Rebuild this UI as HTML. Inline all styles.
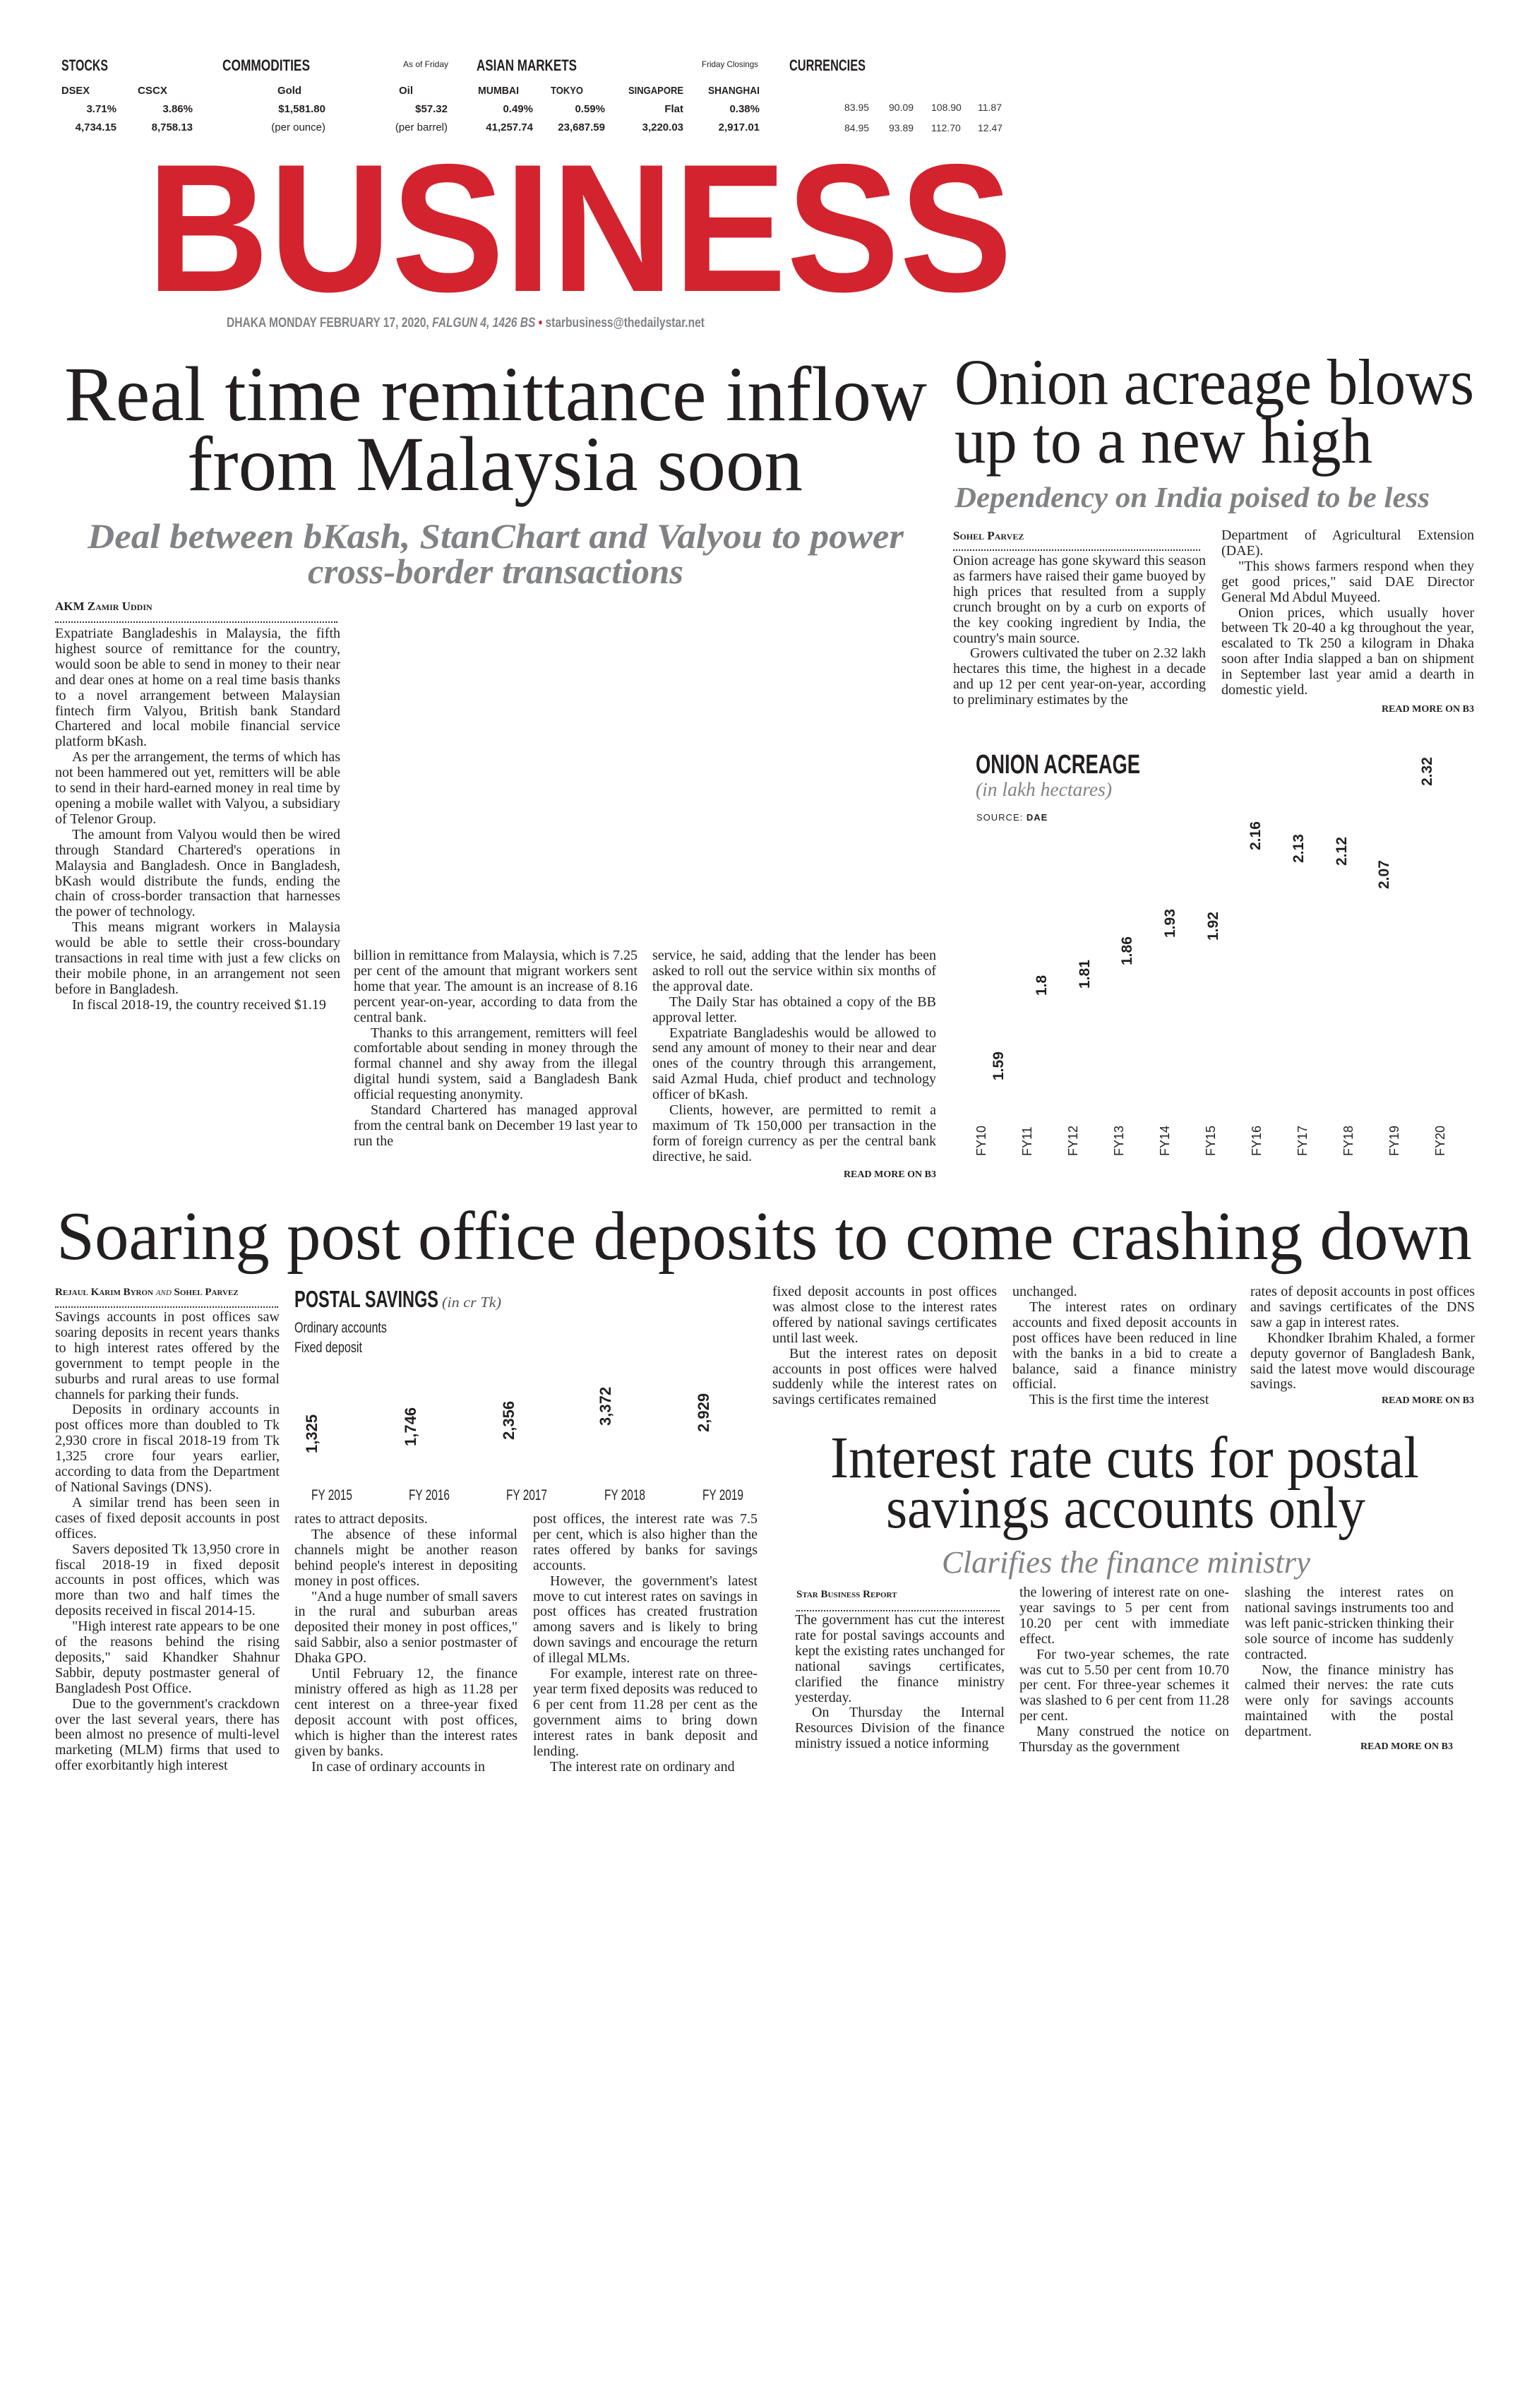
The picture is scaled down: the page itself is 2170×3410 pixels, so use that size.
<!DOCTYPE html>
<html><head><meta charset="utf-8">
<style>
*{margin:0;padding:0;box-sizing:border-box}
html,body{width:2170px;height:3410px;background:#fff;overflow:hidden}
body{position:relative;font-family:"Liberation Serif",serif;color:#222}
svg{position:absolute;left:0;top:0}
.col{position:absolute;font-family:"Liberation Serif",serif;font-size:20px;line-height:21.9px;text-align:justify;color:#231f20}
.col p{text-indent:24px}
.col p.ni{text-indent:0}
.by{position:absolute;font-family:"Liberation Serif",serif;font-size:17px;font-weight:bold;font-variant:small-caps;color:#231f20;white-space:nowrap}
.dots{position:absolute;height:0;border-top:2px dotted #333}
.rm{position:absolute;font-family:"Liberation Serif",serif;font-size:14px;font-weight:bold;color:#231f20;white-space:nowrap}
</style></head><body>

<svg width="2170" height="3410" xmlns="http://www.w3.org/2000/svg">
<g font-family="Liberation Sans Narrow, Liberation Sans, sans-serif" font-weight="bold" fill="#231f20">
<text x="87" y="100" font-size="22" textLength="66" lengthAdjust="spacingAndGlyphs">STOCKS</text>
<text x="315" y="100" font-size="22" textLength="124" lengthAdjust="spacingAndGlyphs">COMMODITIES</text>
<text x="571" y="95" font-size="12" font-weight="normal" textLength="64" lengthAdjust="spacingAndGlyphs">As of Friday</text>
<text x="675" y="100" font-size="22" textLength="142" lengthAdjust="spacingAndGlyphs">ASIAN MARKETS</text>
<text x="994" y="95" font-size="12" font-weight="normal" textLength="80" lengthAdjust="spacingAndGlyphs">Friday Closings</text>
<text x="1118" y="100" font-size="22" textLength="108" lengthAdjust="spacingAndGlyphs">CURRENCIES</text>
<g font-size="15">
<text x="87" y="133" textLength="40" lengthAdjust="spacingAndGlyphs">DSEX</text>
<text x="195" y="133" textLength="42" lengthAdjust="spacingAndGlyphs">CSCX</text>
<text x="393" y="133" textLength="34" lengthAdjust="spacingAndGlyphs">Gold</text>
<text x="565" y="133" textLength="20" lengthAdjust="spacingAndGlyphs">Oil</text>
<text x="677" y="133" textLength="58" lengthAdjust="spacingAndGlyphs">MUMBAI</text>
<text x="780" y="133" textLength="46" lengthAdjust="spacingAndGlyphs">TOKYO</text>
<text x="890" y="133" textLength="78" lengthAdjust="spacingAndGlyphs">SINGAPORE</text>
<text x="1003" y="133" textLength="73" lengthAdjust="spacingAndGlyphs">SHANGHAI</text>
</g>
<g font-size="15" text-anchor="end">
<text x="165" y="159">3.71%</text><text x="273" y="159">3.86%</text>
<text x="461" y="159">$1,581.80</text><text x="634" y="159">$57.32</text>
<text x="755" y="159">0.49%</text><text x="857" y="159">0.59%</text>
<text x="968" y="159">Flat</text><text x="1076" y="159">0.38%</text>
<text x="165" y="185">4,734.15</text><text x="273" y="185">8,758.13</text>
<text x="461" y="185" font-weight="normal">(per ounce)</text><text x="634" y="185" font-weight="normal">(per barrel)</text>
<text x="755" y="185">41,257.74</text><text x="857" y="185">23,687.59</text>
<text x="968" y="185">3,220.03</text><text x="1076" y="185">2,917.01</text>
</g>
<g font-size="14" font-weight="normal" fill="#333">
<text x="1196" y="157">83.95</text><text x="1259" y="157">90.09</text><text x="1319" y="157">108.90</text><text x="1385" y="157">11.87</text>
<text x="1196" y="186">84.95</text><text x="1259" y="186">93.89</text><text x="1319" y="186">112.70</text><text x="1385" y="186">12.47</text>
</g>
</g>

<text x="208" y="412" font-family="Liberation Sans Narrow, Liberation Sans, sans-serif" font-weight="bold" font-size="258" fill="#d3232e" textLength="1226" lengthAdjust="spacingAndGlyphs">BUSINESS</text>
<text x="321" y="463" font-family="Liberation Sans Narrow, Liberation Sans, sans-serif" font-weight="bold" font-size="19" fill="#808285" textLength="677" lengthAdjust="spacingAndGlyphs">DHAKA MONDAY FEBRUARY 17, 2020, <tspan font-style="italic">FALGUN 4, 1426 BS</tspan>  <tspan fill="#d3232e">•</tspan>  starbusiness@thedailystar.net</text>

<g font-family="Liberation Serif, serif" fill="#231f20">
<text x="91" y="595" font-size="110" textLength="1222" lengthAdjust="spacingAndGlyphs">Real time remittance inflow</text>
<text x="265" y="694" font-size="110" textLength="872" lengthAdjust="spacingAndGlyphs">from Malaysia soon</text>
<text x="1352" y="572" font-size="92" textLength="736" lengthAdjust="spacingAndGlyphs">Onion acreage blows</text>
<text x="1352" y="655" font-size="92" textLength="592" lengthAdjust="spacingAndGlyphs">up to a new high</text>
<text x="80" y="1783" font-size="98" textLength="2005" lengthAdjust="spacingAndGlyphs">Soaring post office deposits to come crashing down</text>
<text x="1176" y="2092" font-size="84" textLength="834" lengthAdjust="spacingAndGlyphs">Interest rate cuts for postal</text>
<text x="1255" y="2163" font-size="84" textLength="679" lengthAdjust="spacingAndGlyphs">savings accounts only</text>
</g>
<g font-family="Liberation Serif, serif" font-style="italic" font-weight="bold" fill="#808285">
<text x="124" y="776" font-size="50" textLength="1156" lengthAdjust="spacingAndGlyphs">Deal between bKash, StanChart and Valyou to power</text>
<text x="436" y="826" font-size="50" textLength="532" lengthAdjust="spacingAndGlyphs">cross-border transactions</text>
<text x="1352" y="718" font-size="41" textLength="673" lengthAdjust="spacingAndGlyphs">Dependency on India poised to be less</text>
<text x="1334" y="2227" font-size="44" font-weight="normal" textLength="522" lengthAdjust="spacingAndGlyphs">Clarifies the finance ministry</text>
</g>

<!-- Onion chart -->
<g font-family="Liberation Sans, sans-serif">
<text x="1382" y="1095" font-family="Liberation Sans Narrow, Liberation Sans, sans-serif" font-weight="bold" font-size="38" fill="#231f20" textLength="233" lengthAdjust="spacingAndGlyphs">ONION ACREAGE</text>
<text x="1382" y="1127" font-family="Liberation Serif, serif" font-style="italic" font-size="27" fill="#808285" textLength="193" lengthAdjust="spacingAndGlyphs">(in lakh hectares)</text>
<text x="1383" y="1162" font-size="13" fill="#231f20" letter-spacing="1">SOURCE: <tspan font-weight="bold">DAE</tspan></text>
<g font-size="18" fill="#231f20">
<text transform="translate(1396,1637) rotate(-90)">FY10</text>
<text transform="translate(1461,1637) rotate(-90)">FY11</text>
<text transform="translate(1526,1637) rotate(-90)">FY12</text>
<text transform="translate(1591,1637) rotate(-90)">FY13</text>
<text transform="translate(1656,1637) rotate(-90)">FY14</text>
<text transform="translate(1721,1637) rotate(-90)">FY15</text>
<text transform="translate(1786,1637) rotate(-90)">FY16</text>
<text transform="translate(1851,1637) rotate(-90)">FY17</text>
<text transform="translate(1916,1637) rotate(-90)">FY18</text>
<text transform="translate(1981,1637) rotate(-90)">FY19</text>
<text transform="translate(2046,1637) rotate(-90)">FY20</text>
</g>
<g font-size="21" font-weight="bold" fill="#231f20">
<text transform="translate(1421,1530) rotate(-90)">1.59</text>
<text transform="translate(1482,1410) rotate(-90)">1.8</text>
<text transform="translate(1543,1400) rotate(-90)">1.81</text>
<text transform="translate(1603,1367) rotate(-90)">1.86</text>
<text transform="translate(1664,1328) rotate(-90)">1.93</text>
<text transform="translate(1725,1332) rotate(-90)">1.92</text>
<text transform="translate(1785,1204) rotate(-90)">2.16</text>
<text transform="translate(1846,1222) rotate(-90)">2.13</text>
<text transform="translate(1907,1226) rotate(-90)">2.12</text>
<text transform="translate(1967,1259) rotate(-90)">2.07</text>
<text transform="translate(2028,1113) rotate(-90)">2.32</text>
</g>
</g>

<!-- Postal chart -->
<g font-family="Liberation Sans Narrow, Liberation Sans, sans-serif" fill="#231f20">
<text x="417" y="1851" font-weight="bold" font-size="33" textLength="204" lengthAdjust="spacingAndGlyphs">POSTAL SAVINGS</text>
<text x="626" y="1851" font-family="Liberation Serif, serif" font-style="italic" font-size="21" fill="#555" textLength="84" lengthAdjust="spacingAndGlyphs">(in cr Tk)</text>
<text x="417" y="1887" font-size="21" textLength="131" lengthAdjust="spacingAndGlyphs">Ordinary accounts</text>
<text x="417" y="1915" font-size="21" textLength="96" lengthAdjust="spacingAndGlyphs">Fixed deposit</text>
<g font-family="Liberation Sans, sans-serif" font-weight="bold" font-size="22">
<text transform="translate(449,2058) rotate(-90)">1,325</text>
<text transform="translate(589,2048) rotate(-90)">1,746</text>
<text transform="translate(728,2039) rotate(-90)">2,356</text>
<text transform="translate(865,2019) rotate(-90)">3,372</text>
<text transform="translate(1004,2028) rotate(-90)">2,929</text>
</g>
<g font-size="21" text-anchor="middle">
<text x="470" y="2124" textLength="58" lengthAdjust="spacingAndGlyphs">FY 2015</text><text x="608" y="2124" textLength="58" lengthAdjust="spacingAndGlyphs">FY 2016</text><text x="746" y="2124" textLength="58" lengthAdjust="spacingAndGlyphs">FY 2017</text><text x="885" y="2124" textLength="58" lengthAdjust="spacingAndGlyphs">FY 2018</text><text x="1024" y="2124" textLength="58" lengthAdjust="spacingAndGlyphs">FY 2019</text>
</g>
</g>
</svg>

<!-- Article 1 -->
<div class="by" style="left:78px;top:849px">AKM Zamir Uddin</div>
<div class="dots" style="left:78px;top:880px;width:400px"></div>
<div class="col" style="left:78px;top:887px;width:404px">
<p class="ni">Expatriate Bangladeshis in Malaysia, the fifth highest source of remittance for the country, would soon be able to send in money to their near and dear ones at home on a real time basis thanks to a novel arrangement between Malaysian fintech firm Valyou, British bank Standard Chartered and local mobile financial service platform bKash.</p>
<p>As per the arrangement, the terms of which has not been hammered out yet, remitters will be able to send in their hard-earned money in real time by opening a mobile wallet with Valyou, a subsidiary of Telenor Group.</p>
<p>The amount from Valyou would then be wired through Standard Chartered's operations in Malaysia and Bangladesh. Once in Bangladesh, bKash would distribute the funds, ending the chain of cross-border transaction that harnesses the power of technology.</p>
<p>This means migrant workers in Malaysia would be able to settle their cross-boundary transactions in real time with just a few clicks on their mobile phone, in an arrangement not seen before in Bangladesh.</p>
<p>In fiscal 2018-19, the country received $1.19</p>
</div>
<div class="col" style="left:501px;top:1343px;width:402px">
<p class="ni">billion in remittance from Malaysia, which is 7.25 per cent of the amount that migrant workers sent home that year. The amount is an increase of 8.16 percent year-on-year, according to data from the central bank.</p>
<p>Thanks to this arrangement, remitters will feel comfortable about sending in money through the formal channel and shy away from the illegal digital hundi system, said a Bangladesh Bank official requesting anonymity.</p>
<p>Standard Chartered has managed approval from the central bank on December 19 last year to run the</p>
</div>
<div class="col" style="left:924px;top:1343px;width:402px">
<p class="ni">service, he said, adding that the lender has been asked to roll out the service within six months of the approval date.</p>
<p>The Daily Star has obtained a copy of the BB approval letter.</p>
<p>Expatriate Bangladeshis would be allowed to send any amount of money to their near and dear ones of the country through this arrangement, said Azmal Huda, chief product and technology officer of bKash.</p>
<p>Clients, however, are permitted to remit a maximum of Tk 150,000 per transaction in the form of foreign currency as per the central bank directive, he said.</p>
</div>
<div class="rm" style="right:844px;top:1656px">READ MORE ON B3</div>

<!-- Onion -->
<div class="by" style="left:1350px;top:749px">Sohel Parvez</div>
<div class="dots" style="left:1350px;top:778px;width:350px"></div>
<div class="col" style="left:1350px;top:784px;width:358px">
<p class="ni">Onion acreage has gone skyward this season as farmers have raised their game buoyed by high prices that resulted from a supply crunch brought on by a curb on exports of the key cooking ingredient by India, the country's main source.</p>
<p>Growers cultivated the tuber on 2.32 lakh hectares this time, the highest in a decade and up 12 per cent year-on-year, according to preliminary estimates by the</p>
</div>
<div class="col" style="left:1730px;top:748px;width:358px">
<p class="ni">Department of Agricultural Extension (DAE).</p>
<p>"This shows farmers respond when they get good prices," said DAE Director General Md Abdul Muyeed.</p>
<p>Onion prices, which usually hover between Tk 20-40 a kg throughout the year, escalated to Tk 250 a kilogram in Dhaka soon after India slapped a ban on shipment in September last year amid a dearth in domestic yield.</p>
</div>
<div class="rm" style="right:82px;top:997px">READ MORE ON B3</div>

<!-- Soaring -->
<div class="by" style="left:78px;top:1822px;font-size:15px">Rejaul Karim Byron <i style="font-weight:normal">and</i> Sohel Parvez</div>
<div class="dots" style="left:78px;top:1850px;width:316px"></div>
<div class="col" style="left:78px;top:1855px;width:318px">
<p class="ni">Savings accounts in post offices saw soaring deposits in recent years thanks to high interest rates offered by the government to tempt people in the suburbs and rural areas to use formal channels for parking their funds.</p>
<p>Deposits in ordinary accounts in post offices more than doubled to Tk 2,930 crore in fiscal 2018-19 from Tk 1,325 crore four years earlier, according to data from the Department of National Savings (DNS).</p>
<p>A similar trend has been seen in cases of fixed deposit accounts in post offices.</p>
<p>Savers deposited Tk 13,950 crore in fiscal 2018-19 in fixed deposit accounts in post offices, which was more than two and half times the deposits received in fiscal 2014-15.</p>
<p>"High interest rate appears to be one of the reasons behind the rising deposits," said Khandker Shahnur Sabbir, deputy postmaster general of Bangladesh Post Office.</p>
<p>Due to the government's crackdown over the last several years, there has been almost no presence of multi-level marketing (MLM) firms that used to offer exorbitantly high interest</p>
</div>
<div class="col" style="left:417px;top:2141px;width:316px">
<p class="ni">rates to attract deposits.</p>
<p>The absence of these informal channels might be another reason behind people's interest in depositing money in post offices.</p>
<p>"And a huge number of small savers in the rural and suburban areas deposited their money in post offices," said Sabbir, also a senior postmaster of Dhaka GPO.</p>
<p>Until February 12, the finance ministry offered as high as 11.28 per cent interest on a three-year fixed deposit account with post offices, which is higher than the interest rates given by banks.</p>
<p>In case of ordinary accounts in</p>
</div>
<div class="col" style="left:755px;top:2141px;width:318px">
<p class="ni">post offices, the interest rate was 7.5 per cent, which is also higher than the rates offered by banks for savings accounts.</p>
<p>However, the government's latest move to cut interest rates on savings in post offices has created frustration among savers and is likely to bring down savings and encourage the return of illegal MLMs.</p>
<p>For example, interest rate on three-year term fixed deposits was reduced to 6 per cent from 11.28 per cent as the government aims to bring down interest rates in bank deposit and lending.</p>
<p>The interest rate on ordinary and</p>
</div>
<div class="col" style="left:1094px;top:1819px;width:318px">
<p class="ni">fixed deposit accounts in post offices was almost close to the interest rates offered by national savings certificates until last week.</p>
<p>But the interest rates on deposit accounts in post offices were halved suddenly while the interest rates on savings certificates remained</p>
</div>
<div class="col" style="left:1434px;top:1819px;width:318px">
<p class="ni">unchanged.</p>
<p>The interest rates on ordinary accounts and fixed deposit accounts in post offices have been reduced in line with the banks in a bid to create a balance, said a finance ministry official.</p>
<p>This is the first time the interest</p>
</div>
<div class="col" style="left:1771px;top:1819px;width:318px">
<p class="ni">rates of deposit accounts in post offices and savings certificates of the DNS saw a gap in interest rates.</p>
<p>Khondker Ibrahim Khaled, a former deputy governor of Bangladesh Bank, said the latest move would discourage savings.</p>
</div>
<div class="rm" style="right:82px;top:1976px">READ MORE ON B3</div>

<!-- Interest -->
<div class="by" style="left:1128px;top:2250px;font-size:15px">Star Business Report</div>
<div class="dots" style="left:1128px;top:2280px;width:288px"></div>
<div class="col" style="left:1126px;top:2284px;width:297px">
<p class="ni">The government has cut the interest rate for postal savings accounts and kept the existing rates unchanged for national savings certificates, clarified the finance ministry yesterday.</p>
<p>On Thursday the Internal Resources Division of the finance ministry issued a notice informing</p>
</div>
<div class="col" style="left:1444px;top:2245px;width:297px">
<p class="ni">the lowering of interest rate on one-year savings to 5 per cent from 10.20 per cent with immediate effect.</p>
<p>For two-year schemes, the rate was cut to 5.50 per cent from 10.70 per cent. For three-year schemes it was slashed to 6 per cent from 11.28 per cent.</p>
<p>Many construed the notice on Thursday as the government</p>
</div>
<div class="col" style="left:1763px;top:2245px;width:296px">
<p class="ni">slashing the interest rates on national savings instruments too and was left panic-stricken thinking their sole source of income has suddenly contracted.</p>
<p>Now, the finance ministry has calmed their nerves: the rate cuts were only for savings accounts maintained with the postal department.</p>
</div>
<div class="rm" style="right:112px;top:2466px">READ MORE ON B3</div>
</body></html>
